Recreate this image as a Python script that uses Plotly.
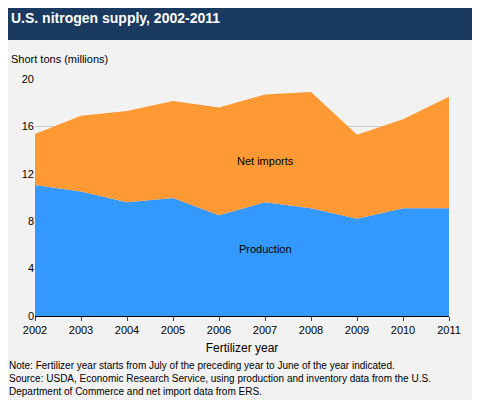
import plotly.graph_objects as go

years = [2002, 2003, 2004, 2005, 2006, 2007, 2008, 2009, 2010, 2011]
production = [11.05, 10.5, 9.6, 9.95, 8.5, 9.6, 9.1, 8.2, 9.1, 9.1]
total = [15.35, 16.9, 17.3, 18.15, 17.6, 18.7, 18.9, 15.3, 16.6, 18.5]
net_imports = [t - p for t, p in zip(total, production)]

H = 237
fig = go.Figure()
fig.add_trace(go.Scatter(x=years, y=production, stackgroup="s", mode="none",
                         fillcolor="#3399FF", name="Production"))
fig.add_trace(go.Scatter(x=years, y=net_imports, stackgroup="s", mode="none",
                         fillcolor="#FF9933", name="Net imports"))
fig.update_layout(
    width=480, height=400, showlegend=False,
    margin=dict(l=27, r=39, t=71, b=92),
    paper_bgcolor="#F2F2F2", plot_bgcolor="#F2F2F2",
    font=dict(family="Liberation Sans, Arial", size=11, color="#000"),
    xaxis=dict(range=[2002, 2011], tickvals=years, showgrid=False, ticks="outside",
               ticklen=4, linecolor="#000", showline=True,
               title=dict(text="Fertilizer year", standoff=8, font=dict(size=12))),
    yaxis=dict(range=[0, 20], tickvals=[0, 4, 8, 12, 16, 20], showgrid=True,
               gridcolor="#CCCCCC", zeroline=False, showline=False),
    shapes=[dict(type="rect", xref="paper", yref="paper", x0=-0.2, x1=1.2,
                 y0=1 + 39 / H, y1=1.5,
                 fillcolor="#1B3A5F", line_width=0, layer="below")],
    annotations=[
        dict(text="<b>U.S. nitrogen supply, 2002-2011</b>", xref="paper", yref="paper",
             x=-0.063, y=1 + 71 / H, xanchor="left", yanchor="top", showarrow=False,
             font=dict(color="white", size=14)),
        dict(text="Short tons (millions)", xref="paper", yref="paper", x=-0.063,
             y=1 + 28 / H, xanchor="left", yanchor="top", showarrow=False),
        dict(text="Net imports", x=2007, y=13.1, showarrow=False),
        dict(text="Production", x=2007, y=5.65, showarrow=False),
        dict(text="Note: Fertilizer year starts from July of the preceding year to June of the year indicated.<br>"
                  "Source: USDA, Economic Research Service, using production and inventory data from the U.S.<br>"
                  "Department of Commerce and net import data from ERS.",
             xref="paper", yref="paper", x=-0.068, y=-42 / H, xanchor="left", yanchor="top",
             align="left", showarrow=False, font=dict(size=10)),
    ],
)
fig.write_html("out.html")
